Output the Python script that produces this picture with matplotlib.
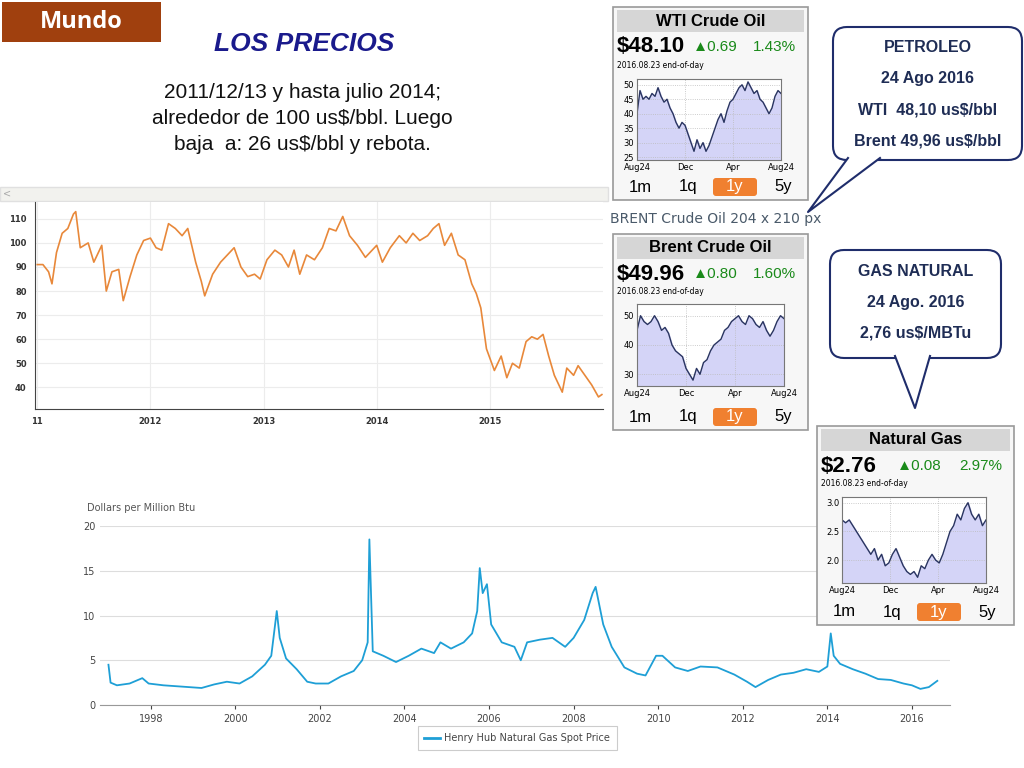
import matplotlib
matplotlib.use("Agg")
import matplotlib.pyplot as plt
import numpy as np
from matplotlib.patches import Rectangle, FancyBboxPatch, Polygon

W, H = 1024, 768
fig = plt.figure(figsize=(10.24, 7.68), dpi=100)

# ---------------- data ----------------
brent_t = [2011.00, 2011.05, 2011.10, 2011.13, 2011.17, 2011.22, 2011.27, 2011.32, 2011.34, 2011.38,
           2011.45, 2011.50, 2011.57, 2011.61, 2011.66, 2011.72, 2011.76, 2011.82, 2011.88, 2011.94,
           2012.00, 2012.05, 2012.10, 2012.16, 2012.22, 2012.28, 2012.33, 2012.40, 2012.45, 2012.48,
           2012.55, 2012.62, 2012.70, 2012.74, 2012.80, 2012.86, 2012.92, 2012.97, 2013.03, 2013.10,
           2013.16, 2013.22, 2013.27, 2013.32, 2013.38, 2013.45, 2013.52, 2013.58, 2013.64, 2013.70,
           2013.76, 2013.83, 2013.90, 2013.96, 2014.00, 2014.05, 2014.12, 2014.20, 2014.26, 2014.32,
           2014.38, 2014.45, 2014.50, 2014.55, 2014.60, 2014.66, 2014.72, 2014.78, 2014.84, 2014.88,
           2014.92, 2014.97, 2015.04, 2015.10, 2015.15, 2015.20, 2015.26, 2015.32, 2015.37, 2015.42,
           2015.47, 2015.52, 2015.57, 2015.64, 2015.68, 2015.74, 2015.78, 2015.84, 2015.90, 2015.96, 2015.99]
brent_v = [91, 91, 88, 83, 96, 104, 106, 112, 113, 98,
           100, 92, 99, 80, 88, 89, 76, 86, 95, 101,
           102, 98, 97, 108, 106, 103, 106, 92, 84, 78,
           87, 92, 96, 98, 90, 86, 87, 85, 93, 97,
           95, 90, 97, 87, 95, 93, 98, 106, 105, 111,
           103, 99, 94, 97, 99, 92, 98, 103, 100, 104,
           101, 103, 106, 108, 99, 104, 95, 93, 83, 79,
           73, 56, 47, 53, 44, 50, 48, 59, 61, 60,
           62, 53, 45, 38, 48, 45, 49, 45, 41, 36, 37]

gas_t = [1997.0, 1997.05, 1997.2, 1997.5, 1997.8, 1997.95, 1998.3, 1998.6, 1998.9, 1999.2, 1999.5, 1999.8,
         2000.1, 2000.4, 2000.7, 2000.85, 2000.98, 2001.05, 2001.2, 2001.45, 2001.7, 2001.9,
         2002.2, 2002.5, 2002.8, 2003.0, 2003.13, 2003.17, 2003.25, 2003.5, 2003.8,
         2004.1, 2004.4, 2004.7, 2004.85, 2005.1, 2005.4, 2005.6, 2005.72, 2005.78, 2005.85, 2005.95, 2006.05,
         2006.3, 2006.6, 2006.75, 2006.9, 2007.2, 2007.5, 2007.8, 2008.0, 2008.25, 2008.45, 2008.52, 2008.7,
         2008.9, 2009.2, 2009.5, 2009.7, 2009.95, 2010.1, 2010.4, 2010.7, 2011.0, 2011.4, 2011.8,
         2012.1, 2012.3, 2012.6, 2012.9, 2013.2, 2013.5, 2013.8, 2014.0, 2014.08, 2014.15, 2014.3,
         2014.6, 2014.9, 2015.2, 2015.5, 2015.8, 2016.0, 2016.2, 2016.4, 2016.6]
gas_v = [4.5, 2.5, 2.2, 2.4, 3.0, 2.4, 2.2, 2.1, 2.0, 1.9, 2.3, 2.6,
         2.4, 3.2, 4.5, 5.5, 10.5, 7.5, 5.2, 4.0, 2.6, 2.4,
         2.4, 3.2, 3.8, 5.0, 7.0, 18.5, 6.0, 5.5, 4.8,
         5.5, 6.3, 5.8, 7.0, 6.3, 7.0, 8.0, 10.5, 15.3, 12.5, 13.5, 9.0,
         7.0, 6.5, 5.0, 7.0, 7.3, 7.5, 6.5, 7.5, 9.5, 12.5, 13.2, 9.0,
         6.5, 4.2, 3.5, 3.3, 5.5, 5.5, 4.2, 3.8, 4.3, 4.2, 3.4,
         2.6, 2.0, 2.8, 3.4, 3.6, 4.0, 3.7, 4.3, 8.0, 5.5, 4.6,
         4.0, 3.5, 2.9, 2.8, 2.4, 2.2, 1.8, 2.0, 2.7]

wti_w = [40, 48, 45, 46, 45, 47, 46, 49, 46, 44, 45, 42, 40, 37, 35, 37, 36, 33, 30, 27, 31, 28, 30, 27,
         29, 32, 35, 38, 40, 37, 41, 44, 45, 47, 49, 50, 48, 51, 49, 47, 48, 45, 44, 42, 40, 42, 46, 48, 47]
brent_w = [45, 50, 48, 47, 48, 50, 48, 45, 46, 44, 40, 38, 37, 36, 32, 30, 28, 32, 30, 34, 35, 38, 40, 41,
           42, 45, 46, 48, 49, 50, 48, 47, 50, 49, 47, 46, 48, 45, 43, 45, 48, 50, 49]
ng_w = [2.7, 2.65, 2.7, 2.6, 2.5, 2.4, 2.3, 2.2, 2.1, 2.2, 2.0, 2.1, 1.9, 1.95, 2.1, 2.2, 2.05, 1.9, 1.8,
        1.75, 1.8, 1.7, 1.9, 1.85, 2.0, 2.1, 2.0, 1.95, 2.1, 2.3, 2.5, 2.6, 2.8, 2.7, 2.9, 3.0, 2.8, 2.7,
        2.8, 2.6, 2.7]

NAVY = "#1f2d6b"
ARIAL = "Liberation Sans"

def ax_px(x0, y0, x1, y1, **kw):
    return fig.add_axes([x0 / W, 1 - y1 / H, (x1 - x0) / W, (y1 - y0) / H], **kw)

def overlay():
    o = ax_px(0, 0, W, H)
    o.set_xlim(0, W); o.set_ylim(H, 0); o.axis("off")
    o.patch.set_alpha(0)
    return o

ov = overlay()

# ---------------- header texts ----------------
ov.add_patch(Rectangle((2, 2), 159, 40, fc="#a0400e", ec="none"))
ov.text(81, 22, "Mundo", color="white", fontsize=17, fontweight="bold", ha="center", va="center", family="Open Sans")
ov.text(304, 44, "LOS PRECIOS", color="#1a1a8c", fontsize=19, fontweight="bold", style="italic",
        ha="center", va="center", family=ARIAL)
for i, line in enumerate(["2011/12/13 y hasta julio 2014;", "alrededor de 100 us$/bbl. Luego",
                          "baja  a: 26 us$/bbl y rebota."]):
    ov.text(302, 92 + i * 26, line, fontsize=15, ha="center", va="center", color="#111111", family=ARIAL)

# ---------------- oil chart ----------------
ov.add_patch(Rectangle((0, 187), 608, 14, fc="#f2f2ee", ec="#e0e0e0"))
ov.text(7, 194, "<", fontsize=7, color="#aaaaaa", ha="center", va="center")
ax1 = ax_px(35, 202, 603, 409)
ax1.plot(brent_t, brent_v, color="#e8883a", lw=1.2)
ax1.set_xlim(2010.98, 2016.0); ax1.set_ylim(31, 117)
ax1.set_yticks([40, 50, 60, 70, 80, 90, 100, 110])
ax1.set_xticks([2011, 2012, 2013, 2014, 2015])
ax1.set_xticklabels(["11", "2012", "2013", "2014", "2015"])
ax1.tick_params(labelsize=6, length=0, pad=6)
for lab in ax1.get_xticklabels() + ax1.get_yticklabels():
    lab.set_fontweight("bold"); lab.set_color("#333333")
ax1.grid(True, color="#ececec", lw=0.8)
for s in ["top", "right"]:
    ax1.spines[s].set_visible(False)
for s in ["left", "bottom"]:
    ax1.spines[s].set_color("#444444")

# ---------------- gas chart ----------------
ax2 = ax_px(100, 526, 950, 705)
ax2.plot(gas_t, gas_v, color="#1e9fd6", lw=1.3)
ax2.set_xlim(1996.8, 2016.9); ax2.set_ylim(0, 20)
ax2.set_yticks([0, 5, 10, 15, 20])
ax2.set_xticks(list(range(1998, 2017, 2)))
ax2.tick_params(labelsize=7, length=3, colors="#444444")
ax2.tick_params(axis="y", length=0)
ax2.grid(True, axis="y", color="#dddddd", lw=0.8)
for s in ["top", "right", "left"]:
    ax2.spines[s].set_visible(False)
ax2.spines["bottom"].set_color("#999999")
ov.text(87, 508, "Dollars per Million Btu", fontsize=7, color="#555555", va="center")
ov.add_patch(Rectangle((418, 726), 199, 24, fc="white", ec="#cccccc", lw=0.8))
ov.plot([424, 440], [738, 738], color="#1e9fd6", lw=2)
ov.text(444, 738, "Henry Hub Natural Gas Spot Price", fontsize=7, color="#444444", va="center")

# top overlay for widgets and callouts
ov2 = overlay()

# ---------------- widgets ----------------
def widget(x0, y0, w, h, title, price, chg, pct, series, yt, ylim, plotbox):
    ov2.add_patch(Rectangle((x0, y0), w, h, fc="#f7f7f7", ec="#999999", lw=1.2))
    ov2.add_patch(Rectangle((x0 + 4, y0 + 3), w - 8, 22, fc="#d6d6d6", ec="none"))
    ov2.text(x0 + w / 2, y0 + 14, title, fontsize=12, fontweight="bold", ha="center", va="center", family=ARIAL)
    ov2.text(x0 + 4, y0 + 40, price, fontsize=16, fontweight="bold", ha="left", va="center", family=ARIAL)
    ov2.text(x0 + 80, y0 + 40, "\u25b2" + chg, fontsize=11, color="#1a8a1a", ha="left", va="center", family=ARIAL)
    ov2.text(x0 + w - 12, y0 + 40, pct, fontsize=11, color="#1a8a1a", ha="right", va="center", family=ARIAL)
    ov2.text(x0 + 4, y0 + 58, "2016.08.23 end-of-day", fontsize=5.5, ha="left", va="center")
    px0, py0, px1, py1 = plotbox
    a = ax_px(px0, py0, px1, py1)
    xs = np.arange(len(series))
    a.fill_between(xs, series, ylim[0], color="#d4d4f7")
    a.plot(xs, series, color="#2a3560", lw=1)
    a.set_xlim(0, len(series) - 1); a.set_ylim(*ylim)
    a.set_yticks(yt)
    n = len(series) - 1
    a.set_xticks([0, n / 3, 2 * n / 3, n])
    a.set_xticklabels(["Aug24", "Dec", "Apr", "Aug24"])
    a.tick_params(labelsize=6, length=0, pad=2)
    a.grid(True, color="#bbbbbb", ls=":", lw=0.6)
    for s in a.spines.values():
        s.set_color("#777777")
    by = y0 + h - 13
    labels = ["1m", "1q", "1y", "5y"]
    bx = [x0 + 27, x0 + 75, x0 + 122, x0 + 170]
    for lab, xx in zip(labels, bx):
        if lab == "1y":
            ov2.add_patch(FancyBboxPatch((xx - 22, by - 9), 44, 18, boxstyle="round,pad=0,rounding_size=3",
                                         fc="#f08030", ec="none"))
            ov2.text(xx, by, lab, fontsize=12, color="white", ha="center", va="center", family=ARIAL)
        else:
            ov2.text(xx, by, lab, fontsize=12, ha="center", va="center", family=ARIAL)

widget(613, 7, 195, 193, "WTI Crude Oil", "$48.10", "0.69", "1.43%", wti_w, [25, 30, 35, 40, 45, 50],
       (24, 52), (637, 79, 781, 160))
ov2.text(610, 219, "BRENT Crude Oil 204 x 210 px", fontsize=10, color="#4a5a6a", ha="left", va="center")
widget(613, 234, 195, 196, "Brent Crude Oil", "$49.96", "0.80", "1.60%", brent_w, [30, 40, 50],
       (26, 54), (637, 304, 784, 386))
widget(817, 426, 197, 199, "Natural Gas", "$2.76", "0.08", "2.97%", ng_w, [2.0, 2.5, 3.0],
       (1.6, 3.1), (842, 497, 986, 583))

# ---------------- callouts ----------------
def callout(x0, y0, x1, y1, tail, lines, ys):
    ov2.add_patch(FancyBboxPatch((x0, y0), x1 - x0, y1 - y0, boxstyle="round,pad=0,rounding_size=14",
                                 fc="white", ec=NAVY, lw=1.5))
    (ax_, ay_), (bx_, by_), (tx, ty) = tail
    ov2.add_patch(Polygon([(ax_, ay_), (tx, ty), (bx_, by_)], closed=True, fc="white", ec="none", zorder=3))
    ov2.plot([ax_, tx, bx_], [ay_, ty, by_], color=NAVY, lw=1.5, zorder=4)
    for t, yy in zip(lines, ys):
        ov2.text((x0 + x1) / 2, yy, t, fontsize=11.5, fontweight="bold", color="#1f2d55",
                 ha="center", va="center", zorder=5, family=ARIAL)

callout(833, 27, 1022, 160, ((848, 158), (880, 158), (808, 212)),
        ["PETROLEO", "24 Ago 2016", "WTI  48,10 us$/bbl", "Brent 49,96 us$/bbl"], [48, 79, 110, 141])
callout(830, 250, 1001, 358, ((895, 356), (930, 356), (915, 408)),
        ["GAS NATURAL", "24 Ago. 2016", "2,76 us$/MBTu"], [271, 302, 333])

fig.savefig("out.png", dpi=100)
